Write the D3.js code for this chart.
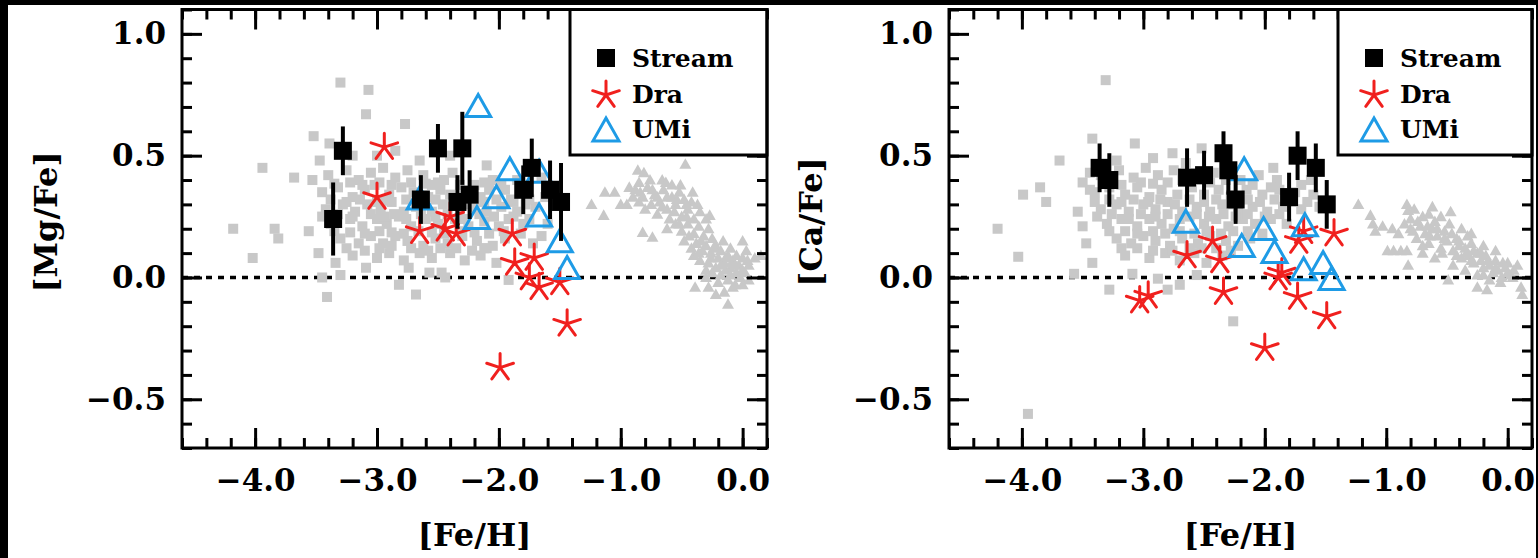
<!DOCTYPE html>
<html><head><meta charset="utf-8">
<script src="https://cdn.jsdelivr.net/npm/d3@7"></script>
<style>html,body{margin:0;padding:0;background:#000;} svg{display:block}</style>
</head><body><svg id="c" width="1538" height="558"></svg>
<script>
// ---------- DATA ----------
const xTicks = [-4, -3, -2, -1, 0];
const yTicks = [1.0, 0.5, 0.0, -0.5];
const legendLabels = ["Stream", "Dra", "UMi"];

const streamFeH = [-3.36, -3.28, -2.64, -2.50, -2.34, -2.30, -2.24, -1.80, -1.73, -1.58, -1.49];
const streamMg  = [0.24, 0.52, 0.32, 0.53, 0.31, 0.53, 0.34, 0.36, 0.45, 0.36, 0.31];
const streamMgErr = [0.15, 0.10, 0.10, 0.10, 0.11, 0.15, 0.10, 0.10, 0.12, 0.12, 0.16];
const streamCa  = [0.45, 0.40, 0.41, 0.42, 0.51, 0.44, 0.32, 0.33, 0.50, 0.45, 0.30];
const streamCaErr = [0.10, 0.11, 0.12, 0.10, 0.09, 0.10, 0.10, 0.10, 0.10, 0.10, 0.10];

const draMg = [[-3.00,0.33],[-2.94,0.535],[-2.65,0.19],[-2.44,0.20],[-2.40,0.25],[-2.35,0.18],[-1.99,-0.37],
  [-1.89,0.18],[-1.87,0.06],[-1.75,0.0],[-1.71,0.08],[-1.67,-0.04],[-1.50,-0.02],[-1.44,-0.19]];
const draCa = [[-3.03,-0.095],[-2.96,-0.075],[-2.64,0.09],[-2.43,0.15],[-2.37,0.07],[-2.34,-0.06],[-2.00,-0.29],
  [-1.89,0.0],[-1.86,0.02],[-1.73,-0.08],[-1.72,0.15],[-1.68,0.19],[-1.49,-0.16],[-1.43,0.18]];

const umiMg = [[-2.65,0.32],[-2.17,0.70],[-2.18,0.24],[-2.02,0.325],[-1.91,0.44],[-1.67,0.43],[-1.67,0.25],[-1.50,0.145],[-1.44,0.035]];
const umiCa = [[-2.65,0.225],[-2.17,0.44],[-2.19,0.125],[-2.01,0.195],[-1.92,0.10],[-1.67,0.21],[-1.68,0.03],[-1.52,0.055],[-1.45,-0.01]];

const haloMg = [
 [-3.30,0.80],[-3.07,0.77],[-3.09,0.67],[-2.77,0.63],[-3.52,0.58],[-3.94,0.45],[-3.68,0.41],[-3.53,0.40],
 [-4.18,0.20],[-3.84,0.20],[-3.81,0.16],[-3.56,0.19],[-4.02,0.08],[-3.48,0.10],[-3.34,0.06],[-3.30,0.01],
 [-3.45,0.0],[-3.41,-0.08],[-2.82,-0.03],[-2.68,-0.07],[-3.47,0.48],[-3.39,0.55],[-2.44,0.0],[-3.09,0.04],
 [-2.74,0.04],[-2.57,0.02],[-2.47,0.02],[-1.92,-0.01],[-2.12,0.12],[-1.65,0.17],
 [-3.40,0.42],[-3.25,0.44],[-3.15,0.40],[-3.05,0.43],[-2.95,0.45],[-2.85,0.41],[-2.75,0.44],[-2.62,0.42],
 [-2.55,0.38],[-2.45,0.40],[-2.38,0.43],[-2.20,0.38],[-2.05,0.40],[-1.95,0.36],[-1.85,0.40],[-1.65,0.41],
 [-3.45,0.35],[-3.32,0.37],[-3.20,0.33],[-3.10,0.36],[-3.02,0.38],[-2.90,0.34],[-2.80,0.37],[-2.70,0.35],
 [-2.58,0.33],[-2.48,0.36],[-2.40,0.34],[-2.28,0.30],[-2.15,0.33],[-2.08,0.36],[-1.90,0.32],[-1.78,0.30],[-1.62,0.33],
 [-3.42,0.28],[-3.28,0.30],[-3.18,0.27],[-3.08,0.30],[-2.97,0.28],[-2.88,0.31],[-2.78,0.27],[-2.68,0.29],
 [-2.55,0.27],[-2.46,0.30],[-2.32,0.27],[-2.20,0.29],[-2.10,0.27],[-1.98,0.29],[-1.85,0.27],[-1.70,0.29],
 [-3.38,0.22],[-3.22,0.24],[-3.12,0.21],[-3.00,0.24],[-2.92,0.22],[-2.82,0.25],[-2.72,0.21],[-2.60,0.24],
 [-2.50,0.22],[-2.36,0.24],[-2.25,0.21],[-2.12,0.23],[-2.00,0.21],[-1.92,0.24],[-1.80,0.22],[-1.60,0.22],
 [-3.30,0.16],[-3.15,0.14],[-3.05,0.17],[-2.95,0.14],[-2.85,0.17],[-2.75,0.15],[-2.62,0.13],[-2.52,0.16],
 [-2.42,0.14],[-2.30,0.17],[-2.18,0.15],[-2.05,0.13],[-1.95,0.16],[-1.72,0.14],
 [-3.20,0.09],[-3.00,0.08],[-2.90,0.10],[-2.78,0.07],[-2.65,0.10],[-2.55,0.08],[-2.40,0.10],[-2.28,0.07],
 [-2.15,0.09],[-2.02,0.06],
 [-3.20,0.50],[-3.00,0.50],[-2.85,0.52],[-2.65,0.48],[-2.40,0.50],[-2.10,0.46],
 [-3.35,0.385],[-3.22,0.39],[-3.12,0.38],[-2.98,0.39],[-2.88,0.38],[-2.72,0.39],[-2.60,0.385],[-2.50,0.39],
 [-2.32,0.38],[-2.12,0.39],[-1.98,0.38],
 [-3.38,0.32],[-3.25,0.31],[-3.14,0.32],[-3.00,0.31],[-2.92,0.315],[-2.76,0.32],[-2.64,0.31],[-2.52,0.32],
 [-2.36,0.31],[-2.24,0.32],[-2.12,0.31],[-2.02,0.32],[-1.88,0.31],[-1.75,0.32],
 [-3.45,0.25],[-3.32,0.26],[-3.20,0.25],[-3.05,0.26],[-2.94,0.25],[-2.86,0.26],[-2.76,0.24],[-2.64,0.26],
 [-2.52,0.25],[-2.42,0.26],[-2.28,0.24],[-2.16,0.26],[-2.04,0.25],[-1.88,0.25],[-1.75,0.24],
 [-3.35,0.19],[-3.22,0.185],[-3.10,0.18],[-2.98,0.19],[-2.88,0.185],[-2.78,0.18],[-2.66,0.19],[-2.55,0.185],
 [-2.45,0.18],[-2.32,0.19],[-2.20,0.185],[-2.08,0.18],[-1.96,0.19],[-1.82,0.18],
 [-3.25,0.12],[-3.10,0.11],[-2.98,0.12],[-2.88,0.13],[-2.72,0.12],[-2.58,0.11],[-2.48,0.12],[-2.35,0.12],
 [-2.22,0.11],[-2.10,0.12]
];

const diskMg = [
 [-0.47,0.465],[-1.24,0.30],[-1.14,0.255],[-1.13,0.35],[-1.05,0.35],[-1.00,0.30],[-0.86,0.44],[-0.81,0.43],
 [-0.85,0.39],[-0.93,0.37],[-0.82,0.185],[-0.74,0.165],[-0.66,0.40],[-0.63,0.39],[-0.51,0.38],[-0.41,0.35],
 [-0.37,0.30],[-0.27,0.255],[0.0,0.15],[0.10,0.08],[0.15,0.09],[-0.12,-0.11],[-0.22,-0.07],[-0.39,-0.04],
 [0.0,-0.03],[0.03,0.11],
 [-0.88,0.36],[-0.82,0.33],[-0.78,0.37],[-0.75,0.30],[-0.72,0.34],[-0.68,0.31],[-0.65,0.36],[-0.62,0.28],
 [-0.58,0.33],[-0.55,0.30],[-0.52,0.35],[-0.48,0.32],[-0.45,0.28],[-0.42,0.31],[-0.80,0.28],[-0.70,0.26],
 [-0.60,0.24],[-0.50,0.25],[-0.85,0.31],[-0.90,0.33],[-0.95,0.30],[-0.76,0.40],[-0.58,0.38],[-0.35,0.27],[-0.30,0.24],
 [-0.62,0.20],[-0.55,0.22],[-0.50,0.19],[-0.45,0.22],[-0.40,0.18],[-0.36,0.21],[-0.32,0.17],[-0.28,0.20],
 [-0.25,0.16],[-0.48,0.15],[-0.42,0.12],[-0.38,0.14],[-0.33,0.11],
 [-0.30,0.13],[-0.26,0.10],[-0.22,0.13],[-0.20,0.08],[-0.18,0.11],[-0.15,0.06],[-0.12,0.09],[-0.10,0.04],
 [-0.08,0.07],[-0.05,0.02],[-0.03,0.05],[-0.22,0.04],[-0.18,0.01],[-0.14,0.03],[-0.28,0.06],[-0.25,0.02],
 [-0.30,0.00],[-0.20,-0.02],[-0.12,-0.01],[-0.06,-0.03],[-0.02,0.00],[0.02,0.02],[0.05,0.05],[-0.35,0.07],
 [-0.40,0.09],[-0.16,0.15],[-0.10,0.12],[-0.05,0.09],[0.00,0.08],[-0.28,-0.04],[-0.15,-0.06],[0.05,-0.01],
 [-0.70,0.33],[-0.66,0.29],[-0.56,0.27],[-0.46,0.25],[-0.40,0.24],[-0.52,0.22],[-0.44,0.17],[-0.34,0.15],
 [-0.24,0.12],[-0.14,0.08],[-0.06,0.05],[-0.18,0.05],[-0.10,0.01],[0.00,0.03],[-0.26,0.08],[-0.36,0.10],
 [-0.30,0.03],[-0.08,-0.04],[0.04,0.07],[-0.74,0.36],[-0.84,0.35],[-0.62,0.33],[-0.54,0.32],[-0.46,0.30]
];

const haloCa = [
 [-3.31,0.81],[-3.42,0.57],[-3.07,0.55],[-3.69,0.48],[-2.76,0.51],[-2.52,0.53],[-3.99,0.34],[-3.85,0.37],
 [-3.80,0.31],[-4.20,0.20],[-4.03,0.085],[-3.54,0.27],[-3.50,0.21],[-3.47,0.14],[-3.42,0.06],[-3.57,0.015],
 [-3.28,-0.05],[-3.09,0.015],[-2.88,-0.005],[-2.80,-0.05],[-2.70,-0.03],[-2.56,0.01],[-2.26,-0.18],[-3.95,-0.56],
 [-1.93,0.45],[-3.44,0.43],[-3.50,0.39],[-3.44,0.36],[-3.22,0.48],[-2.92,0.49],
 [-3.35,0.42],[-3.20,0.44],[-3.08,0.41],[-2.98,0.45],[-2.88,0.42],[-2.75,0.44],[-2.65,0.47],[-2.55,0.40],
 [-2.42,0.43],[-2.20,0.40],[-2.05,0.42],[-1.90,0.40],[-1.62,0.40],
 [-3.40,0.35],[-3.28,0.37],[-3.15,0.34],[-3.05,0.37],[-2.95,0.33],[-2.85,0.36],[-2.72,0.34],[-2.60,0.37],
 [-2.50,0.34],[-2.38,0.36],[-2.28,0.33],[-2.15,0.36],[-2.02,0.34],[-1.88,0.36],[-1.75,0.35],[-1.60,0.34],
 [-3.35,0.28],[-3.22,0.30],[-3.12,0.27],[-3.00,0.30],[-2.90,0.28],[-2.80,0.31],[-2.68,0.27],[-2.56,0.29],
 [-2.45,0.27],[-2.35,0.30],[-2.22,0.27],[-2.10,0.29],[-1.98,0.27],[-1.85,0.29],[-1.70,0.28],[-1.55,0.29],
 [-3.30,0.22],[-3.18,0.24],[-3.05,0.21],[-2.95,0.24],[-2.85,0.22],[-2.75,0.20],[-2.62,0.25],[-2.50,0.22],
 [-2.40,0.24],[-2.30,0.21],[-2.18,0.24],[-2.08,0.22],[-1.95,0.24],[-1.82,0.22],
 [-3.22,0.16],[-3.10,0.14],[-3.00,0.17],[-2.90,0.15],[-2.78,0.13],[-2.68,0.16],[-2.55,0.14],[-2.45,0.17],
 [-2.32,0.15],[-2.22,0.13],[-2.12,0.16],
 [-3.15,0.09],[-2.95,0.08],[-2.82,0.10],[-2.70,0.07],[-2.58,0.10],[-2.48,0.06],[-2.35,0.09],
 [-3.30,0.39],[-3.18,0.38],[-3.02,0.39],[-2.92,0.385],[-2.80,0.39],[-2.68,0.40],[-2.45,0.39],[-2.32,0.40],
 [-2.10,0.38],[-1.95,0.37],[-1.70,0.38],
 [-3.40,0.31],[-3.28,0.32],[-3.18,0.31],[-3.08,0.32],[-2.96,0.31],[-2.86,0.32],[-2.74,0.30],[-2.62,0.32],
 [-2.50,0.31],[-2.40,0.32],[-2.26,0.30],[-2.14,0.32],[-2.04,0.31],[-1.92,0.32],[-1.78,0.31],[-1.65,0.31],
 [-3.38,0.25],[-3.26,0.26],[-3.12,0.24],[-3.02,0.26],[-2.90,0.25],[-2.80,0.26],[-2.70,0.24],[-2.56,0.26],
 [-2.46,0.25],[-2.34,0.26],[-2.24,0.25],[-2.14,0.26],[-2.00,0.25],[-1.88,0.26],
 [-3.28,0.19],[-3.15,0.19],[-3.05,0.18],[-2.92,0.19],[-2.82,0.18],[-2.70,0.19],[-2.58,0.18],[-2.48,0.19],
 [-2.36,0.18],[-2.26,0.19],[-2.14,0.19],[-2.02,0.18],
 [-3.18,0.12],[-3.05,0.12],[-2.92,0.11],[-2.76,0.11],[-2.62,0.12],[-2.52,0.12],[-2.40,0.12],[-2.28,0.11]
];

const diskCa = [
 [-1.23,0.30],[-1.13,0.255],[-1.11,0.22],[-1.09,0.19],[-1.03,0.21],[-0.83,0.30],[-0.82,0.275],
 [-0.99,0.11],[-0.94,0.11],[-0.88,0.11],[-0.83,0.11],[-0.82,0.05],[-0.47,0.27],[-0.49,-0.01],
 [-0.25,-0.04],[-0.17,-0.05],[0.11,-0.04],[0.12,-0.07],[0.0,0.06],[-0.33,0.17],
 [-0.85,0.22],[-0.80,0.24],[-0.78,0.19],[-0.75,0.16],[-0.72,0.21],[-0.70,0.25],[-0.68,0.18],[-0.65,0.14],
 [-0.62,0.20],[-0.60,0.23],[-0.58,0.17],[-0.55,0.12],[-0.52,0.19],[-0.50,0.15],[-0.48,0.22],[-0.45,0.11],
 [-0.42,0.16],[-0.40,0.13],[-0.38,0.08],[-0.35,0.12],[-0.32,0.09],[-0.30,0.14],[-0.28,0.06],[-0.25,0.10],
 [-0.22,0.07],[-0.20,0.04],[-0.18,0.09],[-0.15,0.05],[-0.12,0.02],[-0.10,0.07],[-0.08,0.03],[-0.05,0.00],
 [-0.02,0.04],[0.02,0.01],[0.05,0.03],[-0.60,0.08],[-0.70,0.10],[-0.45,0.05],[-0.35,0.03],[-0.25,0.01],
 [-0.15,-0.01],[-0.65,0.26],[-0.55,0.25],[-0.38,0.20],[-0.90,0.18],[-0.95,0.20],[-0.77,0.28],[-0.62,0.29],
 [-0.30,0.18],[-0.20,0.13],[-0.10,0.11],[0.08,0.05],
 [-0.80,0.20],[-0.74,0.23],[-0.66,0.21],[-0.58,0.20],[-0.52,0.16],[-0.46,0.18],[-0.40,0.15],[-0.34,0.10],
 [-0.28,0.11],[-0.22,0.10],[-0.16,0.07],[-0.10,0.04],[-0.04,0.06],[0.00,0.02],[-0.20,0.01],[-0.30,0.07],
 [-0.42,0.09],[-0.54,0.10],[-0.64,0.17],[-0.70,0.13],[0.04,0.00],[-0.06,-0.02]
];

// ---------- STYLE ----------
const RED = "#f0201e", BLUE = "#1e9be6", GRAY = "#c8c8c8";
const FONT = "'DejaVu Serif', serif";

const svg = d3.select("#c");
svg.append("rect").attr("x", 8).attr("y", 5).attr("width", 1528).attr("height", 553).attr("fill", "#fff");

const starPath = (r) => {
  let p = "";
  for (let k = 0; k < 5; k++) {
    const a = (-90 + k * 72) * Math.PI / 180;
    p += `M0,0L${(r * Math.cos(a)).toFixed(2)},${(r * Math.sin(a)).toFixed(2)}`;
  }
  return p;
};
const triPath = (w) => `M0,${-w * 0.5}L${w * 0.5},${w * 0.38}L${-w * 0.5},${w * 0.38}Z`;

function panel(o) {
  const top = 9.5, bottom = 448;
  const x = d3.scaleLinear().domain([-4.6, 0.2]).range([o.left, o.right]);
  const y = d3.scaleLinear().domain([-0.7, 1.1]).range([bottom, top]);
  const g = svg.append("g");

  g.append("line").attr("x1", x(-4.6)).attr("x2", x(0.2)).attr("y1", y(0)).attr("y2", y(0))
    .attr("stroke", "#000").attr("stroke-width", 3.5).attr("stroke-dasharray", "6,6");

  g.selectAll(".hs").data(o.halo).enter().append("rect")
    .attr("x", d => x(d[0]) - 5).attr("y", d => y(d[1]) - 5).attr("width", 10).attr("height", 10).attr("fill", GRAY);
  g.selectAll(".dt").data(o.disk).enter().append("path")
    .attr("transform", d => `translate(${x(d[0])},${y(d[1])})`).attr("d", triPath(12)).attr("fill", GRAY);

  g.selectAll(".dra").data(o.dra).enter().append("path")
    .attr("transform", d => `translate(${x(d[0])},${y(d[1])})`).attr("d", starPath(14))
    .attr("stroke", RED).attr("stroke-width", 3).attr("fill", "none").attr("stroke-linecap", "round");
  g.selectAll(".umi").data(o.umi).enter().append("path")
    .attr("transform", d => `translate(${x(d[0])},${y(d[1])})`).attr("d", triPath(25))
    .attr("stroke", BLUE).attr("stroke-width", 3).attr("fill", "none");
  const st = streamFeH.map((f, i) => ({ f, v: o.sv[i], e: o.se[i] }));
  g.selectAll(".eb").data(st).enter().append("line")
    .attr("x1", d => x(d.f)).attr("x2", d => x(d.f)).attr("y1", d => y(d.v - d.e)).attr("y2", d => y(d.v + d.e))
    .attr("stroke", "#000").attr("stroke-width", 4);
  g.selectAll(".sq").data(st).enter().append("rect")
    .attr("x", d => x(d.f) - 9).attr("y", d => y(d.v) - 9).attr("width", 18).attr("height", 18).attr("fill", "#000");

  const fmt = d3.format(".1f");
  const xMinor = d3.range(-46, 3, 2).map(v => v / 10);
  const yMinor = d3.range(-7, 12, 1).map(v => v / 10);
  const styleAxis = (sel) => {
    sel.select(".domain").remove();
    sel.selectAll(".tick line").attr("stroke", "#000").attr("stroke-width", 3);
    sel.selectAll("text").attr("font-family", FONT).attr("font-weight", "bold").attr("font-size", 31).attr("fill", "#000");
  };
  g.append("g").attr("transform", `translate(0,${bottom})`)
    .call(d3.axisBottom(x).tickValues(xMinor).tickSize(-10).tickFormat("")).call(styleAxis);
  g.append("g").attr("transform", `translate(0,${bottom})`)
    .call(d3.axisBottom(x).tickValues(xTicks).tickSize(-20).tickPadding(21).tickFormat(fmt)).call(styleAxis);
  g.append("g").attr("transform", `translate(0,${top})`)
    .call(d3.axisTop(x).tickValues(xMinor).tickSize(-10).tickFormat("")).call(styleAxis);
  g.append("g").attr("transform", `translate(0,${top})`)
    .call(d3.axisTop(x).tickValues(xTicks).tickSize(-20).tickFormat("")).call(styleAxis);
  g.append("g").attr("transform", `translate(${o.left},0)`)
    .call(d3.axisLeft(y).tickValues(yMinor).tickSize(-10).tickFormat("")).call(styleAxis);
  g.append("g").attr("transform", `translate(${o.left},0)`)
    .call(d3.axisLeft(y).tickValues(yTicks).tickSize(-20).tickPadding(16).tickFormat(fmt)).call(styleAxis);
  g.append("g").attr("transform", `translate(${o.right},0)`)
    .call(d3.axisRight(y).tickValues(yMinor).tickSize(-10).tickFormat("")).call(styleAxis);
  g.append("g").attr("transform", `translate(${o.right},0)`)
    .call(d3.axisRight(y).tickValues(yTicks).tickSize(-20).tickFormat("")).call(styleAxis);

  const lx = o.legendLeft;
  g.append("rect").attr("x", lx).attr("y", top).attr("width", o.right - lx).attr("height", 155 - top)
    .attr("fill", "#fff").attr("stroke", "#000").attr("stroke-width", 3);
  const mx = lx + 36, tx = lx + 62;
  g.append("rect").attr("x", mx - 9).attr("y", 58 - 9).attr("width", 18).attr("height", 18).attr("fill", "#000");
  g.append("path").attr("transform", `translate(${mx},95)`).attr("d", starPath(14))
    .attr("stroke", RED).attr("stroke-width", 3).attr("fill", "none").attr("stroke-linecap", "round");
  g.append("path").attr("transform", `translate(${mx},131)`).attr("d", triPath(26))
    .attr("stroke", BLUE).attr("stroke-width", 3).attr("fill", "none");
  [67, 103, 138].forEach((by, i) => {
    g.append("text").attr("x", tx).attr("y", by).text(legendLabels[i])
      .attr("font-family", FONT).attr("font-weight", "bold").attr("font-size", 25).attr("fill", "#000");
  });

  g.append("rect").attr("x", o.left).attr("y", top).attr("width", o.right - o.left).attr("height", bottom - top)
    .attr("fill", "none").attr("stroke", "#000").attr("stroke-width", 3);

  g.append("text").attr("x", (o.left + o.right) / 2).attr("y", 546).attr("text-anchor", "middle")
    .attr("font-family", FONT).attr("font-weight", "bold").attr("font-size", 32).attr("fill", "#000").text("[Fe/H]");
  g.append("text").attr("transform", `translate(${o.ylx},222) rotate(-90)`).attr("text-anchor", "middle")
    .attr("font-family", FONT).attr("font-weight", "bold").attr("font-size", 32).attr("fill", "#000").text(o.ylabel);
}

panel({ left: 182, right: 767, legendLeft: 570, ylx: 57, ylabel: "[Mg/Fe]",
  halo: haloMg, disk: diskMg, dra: draMg, umi: umiMg, sv: streamMg, se: streamMgErr });
panel({ left: 949, right: 1532, legendLeft: 1338, ylx: 822, ylabel: "[Ca/Fe]",
  halo: haloCa, disk: diskCa, dra: draCa, umi: umiCa, sv: streamCa, se: streamCaErr });
</script>
</body></html>
